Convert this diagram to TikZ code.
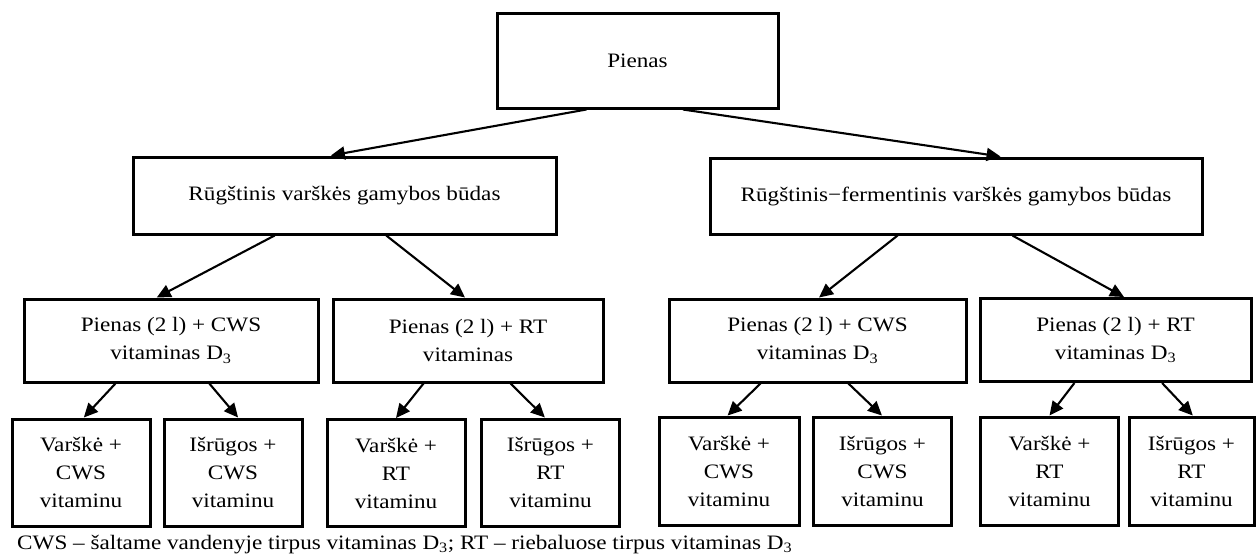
\documentclass[tikz,border=0pt]{standalone}
\usepackage{fontspec}
\setmainfont{Liberation Serif}[FakeStretch=1.13]
\usetikzlibrary{arrows.meta,calc}

\tikzset{
    box/.style={draw, line width=3pt, inner sep=0pt, align=center,
        font=\fontsize{20.5}{28}\selectfont},
    leafbox/.style={box, minimum width=138pt, minimum height=107pt},
    midbox/.style={box, minimum height=83pt},
    link/.style={line width=2.1pt, -{Triangle[length=14pt,width=13pt]}},
}

\begin{document}
\begin{tikzpicture}[x=1pt,y=-1pt]
    \useasboundingbox (0,0) rectangle (1257,558);
    % top levels
    \node[box, minimum width=281pt, minimum height=95pt] (milk) at (637.5,60.5) {Pienas};
    \node[box, minimum width=423pt, minimum height=77pt] (acid) at (344.5,195.5) {Rūgštinis varškės gamybos būdas};
    \node[box, minimum width=492pt, minimum height=76pt] (ferm) at (956,196) {Rūgštinis−fermentinis varškės gamybos būdas};
    % second level
    \node[midbox, minimum width=294pt] (acws) at (171,340.5) {Pienas (2 l) + CWS\\vitaminas D\textsubscript{3}};
    \node[midbox, minimum width=270pt] (art) at (468,340.5) {Pienas (2 l) + RT\\vitaminas};
    \node[midbox, minimum width=297pt] (fcws) at (817.5,340.5) {Pienas (2 l) + CWS\\vitaminas D\textsubscript{3}};
    \node[midbox, minimum width=271pt] (frt) at (1115.5,340) {Pienas (2 l) + RT\\vitaminas D\textsubscript{3}};
    % products
    \node[leafbox] (acwscurd) at (81,472.5) {Varškė +\\CWS\\vitaminu};
    \node[leafbox] (acwswhey) at (233,472.5) {Išrūgos +\\CWS\\vitaminu};
    \node[leafbox] (artcurd) at (396,473) {Varškė +\\RT\\vitaminu};
    \node[leafbox] (artwhey) at (550.5,472.5) {Išrūgos +\\RT\\vitaminu};
    \node[leafbox, minimum width=140pt, minimum height=108pt] (fcwscurd) at (729,471) {Varškė +\\CWS\\vitaminu};
    \node[leafbox, minimum height=108pt] (fcwswhey) at (882.5,471) {Išrūgos +\\CWS\\vitaminu};
    \node[leafbox, minimum height=108pt] (frtcurd) at (1049.5,471) {Varškė +\\RT\\vitaminu};
    \node[leafbox, minimum width=125pt, minimum height=108pt] (frtwhey) at (1191.5,471) {Išrūgos +\\RT\\vitaminu};
    % note
    \node[anchor=base west, inner sep=0pt, font=\fontsize{20.5}{28}\selectfont] (note) at (17,549)
        {CWS -- šaltame vandenyje tirpus vitaminas D\textsubscript{3}; RT -- riebaluose tirpus vitaminas D\textsubscript{3}};

    \draw[link] ($(milk.south west)!0.32!(milk.south east)$) -- ($(acid.north west)!0.468!(acid.north east)$);
    \draw[link] ($(milk.south west)!0.66!(milk.south east)$) -- ($(ferm.north west)!0.59!(ferm.north east)$);

    \draw[link] ($(acid.south west)!0.336!(acid.south east)$) -- ($(acws.north west)!0.452!(acws.north east)$);
    \draw[link] ($(acid.south west)!0.598!(acid.south east)$) -- ($(art.north west)!0.489!(art.north east)$);
    \draw[link] ($(ferm.south west)!0.382!(ferm.south east)$) -- ($(fcws.north west)!0.505!(fcws.north east)$);
    \draw[link] ($(ferm.south west)!0.614!(ferm.south east)$) -- ($(frt.north west)!0.531!(frt.north east)$);

    \draw[link] ($(acws.south west)!0.313!(acws.south east)$) -- ($(acwscurd.north west)!0.52!(acwscurd.north east)$);
    \draw[link] ($(acws.south west)!0.629!(acws.south east)$) -- ($(acwswhey.north west)!0.536!(acwswhey.north east)$);
    \draw[link] ($(art.south west)!0.337!(art.south east)$) -- ($(artcurd.north west)!0.5!(artcurd.north east)$);
    \draw[link] ($(art.south west)!0.656!(art.south east)$) -- ($(artwhey.north west)!0.46!(artwhey.north east)$);
    \draw[link] ($(fcws.south west)!0.31!(fcws.south east)$) -- ($(fcwscurd.north west)!0.49!(fcwscurd.north east)$);
    \draw[link] ($(fcws.south west)!0.603!(fcws.south east)$) -- ($(fcwswhey.north west)!0.496!(fcwswhey.north east)$);
    \draw[link] ($(frt.south west)!0.35!(frt.south east)$) -- ($(frtcurd.north west)!0.5!(frtcurd.north east)$);
    \draw[link] ($(frt.south west)!0.67!(frt.south east)$) -- ($(frtwhey.north west)!0.51!(frtwhey.north east)$);
\end{tikzpicture}
\end{document}
